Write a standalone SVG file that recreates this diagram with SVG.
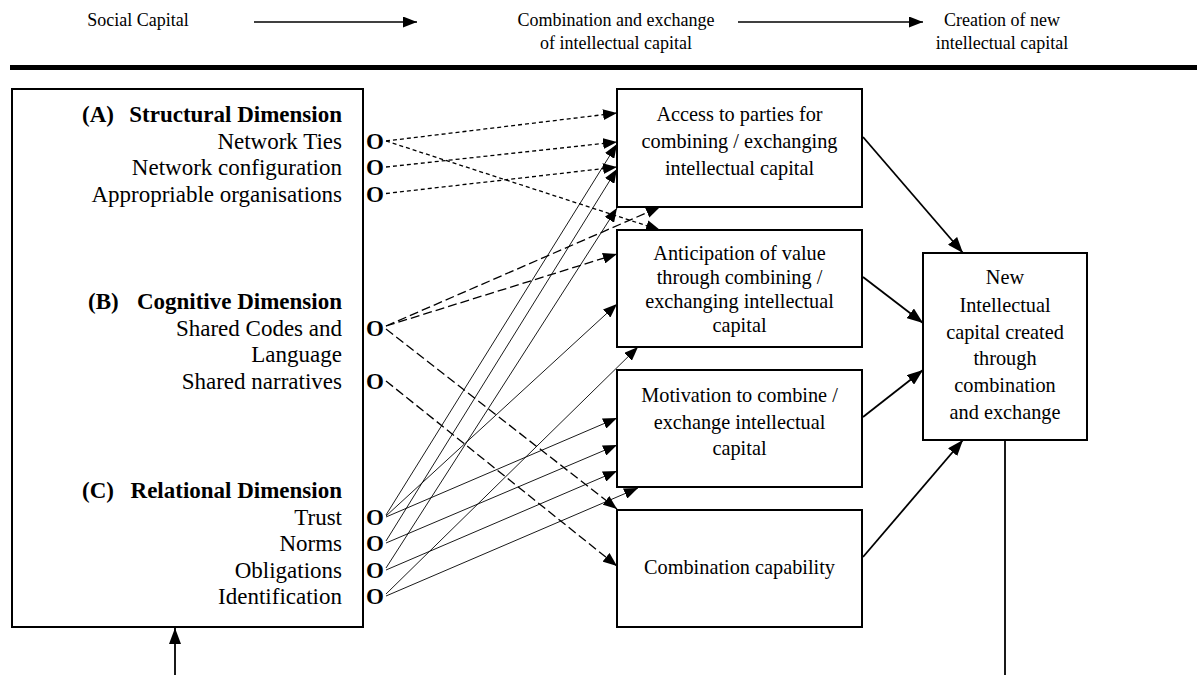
<svg xmlns="http://www.w3.org/2000/svg" width="1197" height="675" viewBox="0 0 1197 675">
<style>
text { font-family: "Liberation Serif", "Times New Roman", serif; fill: #000; }
.hd { font-size: 18px; text-anchor: middle; }
.lt { font-size: 23px; text-anchor: end; }
.lh { font-size: 23px; font-weight: bold; }
.o { font-size: 23px; font-weight: bold; }
.bt { font-size: 20.3px; text-anchor: middle; }
.box { fill: #fff; stroke: #000; stroke-width: 2; }
.ds { fill: none; stroke: #000; stroke-width: 1.3; stroke-dasharray: 4 3; marker-end: url(#ah); }
.dl { fill: none; stroke: #000; stroke-width: 1.3; stroke-dasharray: 9 4; marker-end: url(#ah); }
.st { fill: none; stroke: #000; stroke-width: 0.9; marker-end: url(#ah); }
.sr { fill: none; stroke: #000; stroke-width: 1.8; marker-end: url(#ahL); }
.sh { fill: none; stroke: #000; stroke-width: 1.5; marker-end: url(#ahH); }
.ln { fill: none; stroke: #000; stroke-width: 1.8; }
</style>
<defs>
<marker id="ah" viewBox="0 0 14 11" refX="14" refY="5.5" markerWidth="14" markerHeight="11" markerUnits="userSpaceOnUse" orient="auto"><path d="M0,0 L14,5.5 L0,11 z" fill="#000" stroke="none"/></marker>
<marker id="ahL" viewBox="0 0 16 12" refX="16" refY="6" markerWidth="16" markerHeight="12" markerUnits="userSpaceOnUse" orient="auto"><path d="M0,0 L16,6 L0,12 z" fill="#000" stroke="none"/></marker>
<marker id="ahH" viewBox="0 0 14 11" refX="14" refY="5.5" markerWidth="14" markerHeight="11" markerUnits="userSpaceOnUse" orient="auto"><path d="M0,0 L14,5.5 L0,11 z" fill="#000" stroke="none"/></marker>
</defs>
<rect width="1197" height="675" fill="#fff"/>

<g id="header">
<text class="hd" x="138" y="26">Social Capital</text>
<text class="hd" x="616" y="26">Combination and exchange</text>
<text class="hd" x="616" y="49">of intellectual capital</text>
<text class="hd" x="1002" y="26">Creation of new</text>
<text class="hd" x="1002" y="49">intellectual capital</text>
<rect x="10" y="65" width="1187" height="5" fill="#000"/>
</g>

<g id="social-capital">
<rect class="box" x="12" y="89" width="351" height="538"/>
<text class="lh" x="82" y="122">(A)</text>
<text class="lt lh" x="342" y="122">Structural Dimension</text>
<text class="lt" x="342" y="148.5">Network Ties</text>
<text class="lt" x="342" y="175">Network configuration</text>
<text class="lt" x="342" y="201.5">Appropriable organisations</text>
<text class="lh" x="88" y="309">(B)</text>
<text class="lt lh" x="342" y="309">Cognitive Dimension</text>
<text class="lt" x="342" y="335.5">Shared Codes and</text>
<text class="lt" x="342" y="362">Language</text>
<text class="lt" x="342" y="388.5">Shared narratives</text>
<text class="lh" x="82" y="498">(C)</text>
<text class="lt lh" x="342" y="498">Relational Dimension</text>
<text class="lt" x="342" y="525">Trust</text>
<text class="lt" x="342" y="551">Norms</text>
<text class="lt" x="342" y="578">Obligations</text>
<text class="lt" x="342" y="604">Identification</text>
<text class="o" x="366" y="148.5">O</text>
<text class="o" x="366" y="175">O</text>
<text class="o" x="366" y="201.5">O</text>
<text class="o" x="366" y="335.5">O</text>
<text class="o" x="366" y="388.5">O</text>
<text class="o" x="366" y="525">O</text>
<text class="o" x="366" y="551">O</text>
<text class="o" x="366" y="578">O</text>
<text class="o" x="366" y="604">O</text>
</g>

<g id="access">
<rect class="box" x="617" y="89" width="245" height="118"/>
<text class="bt" x="739.5" y="120.5">Access to parties for</text>
<text class="bt" x="739.5" y="148">combining / exchanging</text>
<text class="bt" x="739.5" y="175">intellectual capital</text>
</g>

<g id="anticipation">
<rect class="box" x="617" y="230" width="245" height="117"/>
<text class="bt" x="739.5" y="260">Anticipation of value</text>
<text class="bt" x="739.5" y="284">through combining /</text>
<text class="bt" x="739.5" y="308">exchanging intellectual</text>
<text class="bt" x="739.5" y="332">capital</text>
</g>

<g id="motivation">
<rect class="box" x="617" y="370" width="245" height="117"/>
<text class="bt" x="739.5" y="402">Motivation to combine /</text>
<text class="bt" x="739.5" y="428.5">exchange intellectual</text>
<text class="bt" x="739.5" y="455">capital</text>
</g>

<g id="capability">
<rect class="box" x="617" y="510" width="245" height="117"/>
<text class="bt" x="739.5" y="573.5">Combination capability</text>
</g>

<g id="new-capital">
<rect class="box" x="923" y="253" width="164" height="187"/>
<text class="bt" x="1005" y="284">New</text>
<text class="bt" x="1005" y="311.5">Intellectual</text>
<text class="bt" x="1005" y="338.5">capital created</text>
<text class="bt" x="1005" y="365">through</text>
<text class="bt" x="1005" y="392">combination</text>
<text class="bt" x="1005" y="418.5">and exchange</text>
</g>

<g id="connectors">
<path class="sh" d="M254,22 L417,22"/>
<path class="sh" d="M738,22 L923,22"/>
<path class="ds" d="M386,141 L617,113"/>
<path class="ds" d="M386,141 L660,230"/>
<path class="ds" d="M386,167 L617,142"/>
<path class="ds" d="M386,193.5 L617,167"/>
<path class="dl" d="M386,326 L617,254"/>
<path class="dl" d="M386,326 L660,207"/>
<path class="dl" d="M386,329 L617,509"/>
<path class="dl" d="M386,381 L617,566"/>
<path class="st" d="M386,515 L617,144"/>
<path class="st" d="M386,516 L617,304"/>
<path class="st" d="M386,517 L617,418"/>
<path class="st" d="M386,541 L617,169"/>
<path class="st" d="M386,543 L617,445"/>
<path class="st" d="M386,568 L617,208"/>
<path class="st" d="M386,570 L617,471"/>
<path class="st" d="M386,594 L638,347"/>
<path class="st" d="M386,596 L638,488"/>
<path class="sr" d="M863,137 L963,253"/>
<path class="sr" d="M863,277 L923,323"/>
<path class="sr" d="M863,417 L923,370"/>
<path class="sr" d="M863,557 L963,440"/>
<path class="sr" d="M175,675 L175,628"/>
<path class="ln" d="M1005,440 L1005,675"/>
</g>
</svg>
